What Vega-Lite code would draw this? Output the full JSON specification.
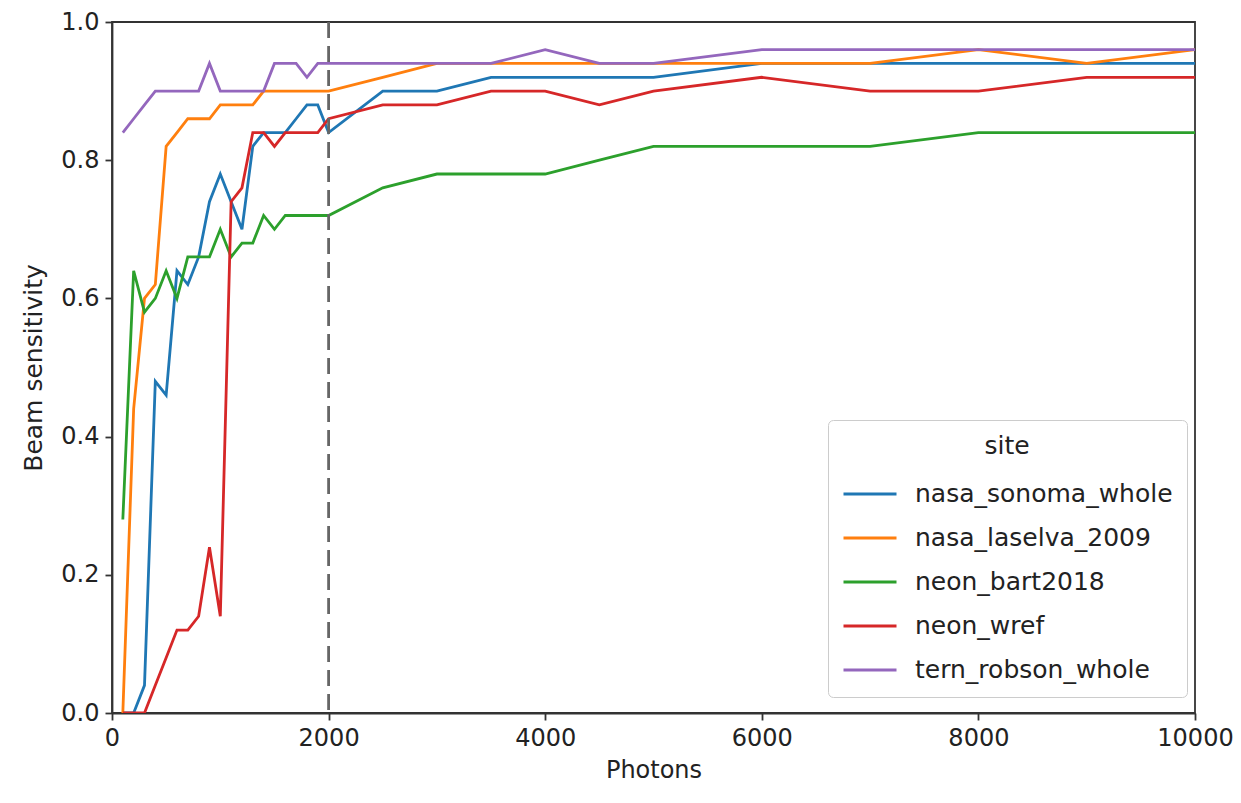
{
  "$schema": "https://vega.github.io/schema/vega-lite/v6.json",
  "width": 1083,
  "height": 691,
  "autosize": {"type": "none"},
  "padding": {"left": 112, "top": 22, "right": 46, "bottom": 90},
  "background": "white",
  "config": {
    "font": "DejaVu Sans",
    "view": {"stroke": "#333333", "strokeWidth": 1.8},
    "axis": {
      "labelFont": "DejaVu Sans",
      "titleFont": "DejaVu Sans",
      "labelFontSize": 24,
      "titleFontSize": 24,
      "titleFontWeight": "normal",
      "labelColor": "#222222",
      "titleColor": "#222222",
      "domainColor": "#333333",
      "domainWidth": 1.8,
      "tickColor": "#333333",
      "tickWidth": 1.8,
      "tickSize": 7,
      "grid": false
    },
    "legend": {
      "labelFont": "DejaVu Sans",
      "titleFont": "DejaVu Sans"
    }
  },
  "datasets": {
    "curves": [
      {"site": "nasa_sonoma_whole", "photons": 100, "sensitivity": 0.0},
      {"site": "nasa_sonoma_whole", "photons": 200, "sensitivity": 0.0},
      {"site": "nasa_sonoma_whole", "photons": 300, "sensitivity": 0.04},
      {"site": "nasa_sonoma_whole", "photons": 400, "sensitivity": 0.48},
      {"site": "nasa_sonoma_whole", "photons": 500, "sensitivity": 0.46},
      {"site": "nasa_sonoma_whole", "photons": 600, "sensitivity": 0.64},
      {"site": "nasa_sonoma_whole", "photons": 700, "sensitivity": 0.62},
      {"site": "nasa_sonoma_whole", "photons": 800, "sensitivity": 0.66},
      {"site": "nasa_sonoma_whole", "photons": 900, "sensitivity": 0.74},
      {"site": "nasa_sonoma_whole", "photons": 1000, "sensitivity": 0.78},
      {"site": "nasa_sonoma_whole", "photons": 1100, "sensitivity": 0.74},
      {"site": "nasa_sonoma_whole", "photons": 1200, "sensitivity": 0.70},
      {"site": "nasa_sonoma_whole", "photons": 1300, "sensitivity": 0.82},
      {"site": "nasa_sonoma_whole", "photons": 1400, "sensitivity": 0.84},
      {"site": "nasa_sonoma_whole", "photons": 1500, "sensitivity": 0.84},
      {"site": "nasa_sonoma_whole", "photons": 1600, "sensitivity": 0.84},
      {"site": "nasa_sonoma_whole", "photons": 1700, "sensitivity": 0.86},
      {"site": "nasa_sonoma_whole", "photons": 1800, "sensitivity": 0.88},
      {"site": "nasa_sonoma_whole", "photons": 1900, "sensitivity": 0.88},
      {"site": "nasa_sonoma_whole", "photons": 2000, "sensitivity": 0.84},
      {"site": "nasa_sonoma_whole", "photons": 2500, "sensitivity": 0.90},
      {"site": "nasa_sonoma_whole", "photons": 3000, "sensitivity": 0.90},
      {"site": "nasa_sonoma_whole", "photons": 3500, "sensitivity": 0.92},
      {"site": "nasa_sonoma_whole", "photons": 4000, "sensitivity": 0.92},
      {"site": "nasa_sonoma_whole", "photons": 4500, "sensitivity": 0.92},
      {"site": "nasa_sonoma_whole", "photons": 5000, "sensitivity": 0.92},
      {"site": "nasa_sonoma_whole", "photons": 6000, "sensitivity": 0.94},
      {"site": "nasa_sonoma_whole", "photons": 7000, "sensitivity": 0.94},
      {"site": "nasa_sonoma_whole", "photons": 8000, "sensitivity": 0.94},
      {"site": "nasa_sonoma_whole", "photons": 9000, "sensitivity": 0.94},
      {"site": "nasa_sonoma_whole", "photons": 10000, "sensitivity": 0.94},

      {"site": "nasa_laselva_2009", "photons": 100, "sensitivity": 0.0},
      {"site": "nasa_laselva_2009", "photons": 200, "sensitivity": 0.44},
      {"site": "nasa_laselva_2009", "photons": 300, "sensitivity": 0.60},
      {"site": "nasa_laselva_2009", "photons": 400, "sensitivity": 0.62},
      {"site": "nasa_laselva_2009", "photons": 500, "sensitivity": 0.82},
      {"site": "nasa_laselva_2009", "photons": 600, "sensitivity": 0.84},
      {"site": "nasa_laselva_2009", "photons": 700, "sensitivity": 0.86},
      {"site": "nasa_laselva_2009", "photons": 800, "sensitivity": 0.86},
      {"site": "nasa_laselva_2009", "photons": 900, "sensitivity": 0.86},
      {"site": "nasa_laselva_2009", "photons": 1000, "sensitivity": 0.88},
      {"site": "nasa_laselva_2009", "photons": 1100, "sensitivity": 0.88},
      {"site": "nasa_laselva_2009", "photons": 1200, "sensitivity": 0.88},
      {"site": "nasa_laselva_2009", "photons": 1300, "sensitivity": 0.88},
      {"site": "nasa_laselva_2009", "photons": 1400, "sensitivity": 0.90},
      {"site": "nasa_laselva_2009", "photons": 1500, "sensitivity": 0.90},
      {"site": "nasa_laselva_2009", "photons": 1600, "sensitivity": 0.90},
      {"site": "nasa_laselva_2009", "photons": 1700, "sensitivity": 0.90},
      {"site": "nasa_laselva_2009", "photons": 1800, "sensitivity": 0.90},
      {"site": "nasa_laselva_2009", "photons": 1900, "sensitivity": 0.90},
      {"site": "nasa_laselva_2009", "photons": 2000, "sensitivity": 0.90},
      {"site": "nasa_laselva_2009", "photons": 2500, "sensitivity": 0.92},
      {"site": "nasa_laselva_2009", "photons": 3000, "sensitivity": 0.94},
      {"site": "nasa_laselva_2009", "photons": 3500, "sensitivity": 0.94},
      {"site": "nasa_laselva_2009", "photons": 4000, "sensitivity": 0.94},
      {"site": "nasa_laselva_2009", "photons": 4500, "sensitivity": 0.94},
      {"site": "nasa_laselva_2009", "photons": 5000, "sensitivity": 0.94},
      {"site": "nasa_laselva_2009", "photons": 6000, "sensitivity": 0.94},
      {"site": "nasa_laselva_2009", "photons": 7000, "sensitivity": 0.94},
      {"site": "nasa_laselva_2009", "photons": 8000, "sensitivity": 0.96},
      {"site": "nasa_laselva_2009", "photons": 9000, "sensitivity": 0.94},
      {"site": "nasa_laselva_2009", "photons": 10000, "sensitivity": 0.96},

      {"site": "neon_bart2018", "photons": 100, "sensitivity": 0.28},
      {"site": "neon_bart2018", "photons": 200, "sensitivity": 0.64},
      {"site": "neon_bart2018", "photons": 300, "sensitivity": 0.58},
      {"site": "neon_bart2018", "photons": 400, "sensitivity": 0.60},
      {"site": "neon_bart2018", "photons": 500, "sensitivity": 0.64},
      {"site": "neon_bart2018", "photons": 600, "sensitivity": 0.60},
      {"site": "neon_bart2018", "photons": 700, "sensitivity": 0.66},
      {"site": "neon_bart2018", "photons": 800, "sensitivity": 0.66},
      {"site": "neon_bart2018", "photons": 900, "sensitivity": 0.66},
      {"site": "neon_bart2018", "photons": 1000, "sensitivity": 0.70},
      {"site": "neon_bart2018", "photons": 1100, "sensitivity": 0.66},
      {"site": "neon_bart2018", "photons": 1200, "sensitivity": 0.68},
      {"site": "neon_bart2018", "photons": 1300, "sensitivity": 0.68},
      {"site": "neon_bart2018", "photons": 1400, "sensitivity": 0.72},
      {"site": "neon_bart2018", "photons": 1500, "sensitivity": 0.70},
      {"site": "neon_bart2018", "photons": 1600, "sensitivity": 0.72},
      {"site": "neon_bart2018", "photons": 1700, "sensitivity": 0.72},
      {"site": "neon_bart2018", "photons": 1800, "sensitivity": 0.72},
      {"site": "neon_bart2018", "photons": 1900, "sensitivity": 0.72},
      {"site": "neon_bart2018", "photons": 2000, "sensitivity": 0.72},
      {"site": "neon_bart2018", "photons": 2500, "sensitivity": 0.76},
      {"site": "neon_bart2018", "photons": 3000, "sensitivity": 0.78},
      {"site": "neon_bart2018", "photons": 3500, "sensitivity": 0.78},
      {"site": "neon_bart2018", "photons": 4000, "sensitivity": 0.78},
      {"site": "neon_bart2018", "photons": 4500, "sensitivity": 0.80},
      {"site": "neon_bart2018", "photons": 5000, "sensitivity": 0.82},
      {"site": "neon_bart2018", "photons": 6000, "sensitivity": 0.82},
      {"site": "neon_bart2018", "photons": 7000, "sensitivity": 0.82},
      {"site": "neon_bart2018", "photons": 8000, "sensitivity": 0.84},
      {"site": "neon_bart2018", "photons": 9000, "sensitivity": 0.84},
      {"site": "neon_bart2018", "photons": 10000, "sensitivity": 0.84},

      {"site": "neon_wref", "photons": 100, "sensitivity": 0.0},
      {"site": "neon_wref", "photons": 200, "sensitivity": 0.0},
      {"site": "neon_wref", "photons": 300, "sensitivity": 0.0},
      {"site": "neon_wref", "photons": 400, "sensitivity": 0.04},
      {"site": "neon_wref", "photons": 500, "sensitivity": 0.08},
      {"site": "neon_wref", "photons": 600, "sensitivity": 0.12},
      {"site": "neon_wref", "photons": 700, "sensitivity": 0.12},
      {"site": "neon_wref", "photons": 800, "sensitivity": 0.14},
      {"site": "neon_wref", "photons": 900, "sensitivity": 0.24},
      {"site": "neon_wref", "photons": 1000, "sensitivity": 0.14},
      {"site": "neon_wref", "photons": 1100, "sensitivity": 0.74},
      {"site": "neon_wref", "photons": 1200, "sensitivity": 0.76},
      {"site": "neon_wref", "photons": 1300, "sensitivity": 0.84},
      {"site": "neon_wref", "photons": 1400, "sensitivity": 0.84},
      {"site": "neon_wref", "photons": 1500, "sensitivity": 0.82},
      {"site": "neon_wref", "photons": 1600, "sensitivity": 0.84},
      {"site": "neon_wref", "photons": 1700, "sensitivity": 0.84},
      {"site": "neon_wref", "photons": 1800, "sensitivity": 0.84},
      {"site": "neon_wref", "photons": 1900, "sensitivity": 0.84},
      {"site": "neon_wref", "photons": 2000, "sensitivity": 0.86},
      {"site": "neon_wref", "photons": 2500, "sensitivity": 0.88},
      {"site": "neon_wref", "photons": 3000, "sensitivity": 0.88},
      {"site": "neon_wref", "photons": 3500, "sensitivity": 0.90},
      {"site": "neon_wref", "photons": 4000, "sensitivity": 0.90},
      {"site": "neon_wref", "photons": 4500, "sensitivity": 0.88},
      {"site": "neon_wref", "photons": 5000, "sensitivity": 0.90},
      {"site": "neon_wref", "photons": 6000, "sensitivity": 0.92},
      {"site": "neon_wref", "photons": 7000, "sensitivity": 0.90},
      {"site": "neon_wref", "photons": 8000, "sensitivity": 0.90},
      {"site": "neon_wref", "photons": 9000, "sensitivity": 0.92},
      {"site": "neon_wref", "photons": 10000, "sensitivity": 0.92},

      {"site": "tern_robson_whole", "photons": 100, "sensitivity": 0.84},
      {"site": "tern_robson_whole", "photons": 200, "sensitivity": 0.86},
      {"site": "tern_robson_whole", "photons": 300, "sensitivity": 0.88},
      {"site": "tern_robson_whole", "photons": 400, "sensitivity": 0.90},
      {"site": "tern_robson_whole", "photons": 500, "sensitivity": 0.90},
      {"site": "tern_robson_whole", "photons": 600, "sensitivity": 0.90},
      {"site": "tern_robson_whole", "photons": 700, "sensitivity": 0.90},
      {"site": "tern_robson_whole", "photons": 800, "sensitivity": 0.90},
      {"site": "tern_robson_whole", "photons": 900, "sensitivity": 0.94},
      {"site": "tern_robson_whole", "photons": 1000, "sensitivity": 0.90},
      {"site": "tern_robson_whole", "photons": 1100, "sensitivity": 0.90},
      {"site": "tern_robson_whole", "photons": 1200, "sensitivity": 0.90},
      {"site": "tern_robson_whole", "photons": 1300, "sensitivity": 0.90},
      {"site": "tern_robson_whole", "photons": 1400, "sensitivity": 0.90},
      {"site": "tern_robson_whole", "photons": 1500, "sensitivity": 0.94},
      {"site": "tern_robson_whole", "photons": 1600, "sensitivity": 0.94},
      {"site": "tern_robson_whole", "photons": 1700, "sensitivity": 0.94},
      {"site": "tern_robson_whole", "photons": 1800, "sensitivity": 0.92},
      {"site": "tern_robson_whole", "photons": 1900, "sensitivity": 0.94},
      {"site": "tern_robson_whole", "photons": 2000, "sensitivity": 0.94},
      {"site": "tern_robson_whole", "photons": 2500, "sensitivity": 0.94},
      {"site": "tern_robson_whole", "photons": 3000, "sensitivity": 0.94},
      {"site": "tern_robson_whole", "photons": 3500, "sensitivity": 0.94},
      {"site": "tern_robson_whole", "photons": 4000, "sensitivity": 0.96},
      {"site": "tern_robson_whole", "photons": 4500, "sensitivity": 0.94},
      {"site": "tern_robson_whole", "photons": 5000, "sensitivity": 0.94},
      {"site": "tern_robson_whole", "photons": 6000, "sensitivity": 0.96},
      {"site": "tern_robson_whole", "photons": 7000, "sensitivity": 0.96},
      {"site": "tern_robson_whole", "photons": 8000, "sensitivity": 0.96},
      {"site": "tern_robson_whole", "photons": 9000, "sensitivity": 0.96},
      {"site": "tern_robson_whole", "photons": 10000, "sensitivity": 0.96}
    ],
    "threshold": [{"photons": 2000}]
  },
  "layer": [
    {
      "data": {"name": "curves"},
      "mark": {"type": "line", "strokeWidth": 2.8, "clip": true},
      "encoding": {
        "x": {
          "field": "photons",
          "type": "quantitative",
          "scale": {"domain": [0, 10000], "nice": false, "zero": true},
          "axis": {
            "title": "Photons",
            "values": [0, 2000, 4000, 6000, 8000, 10000],
            "format": "d",
            "labelPadding": 6,
            "titlePadding": 8,
            "labelFlush": false
          }
        },
        "y": {
          "field": "sensitivity",
          "type": "quantitative",
          "scale": {"domain": [0, 1], "nice": false},
          "axis": {
            "title": "Beam sensitivity",
            "values": [0, 0.2, 0.4, 0.6, 0.8, 1.0],
            "format": ".1f",
            "labelPadding": 6,
            "titlePadding": 14,
            "titleFontSize": 25,
            "labelFlush": false
          }
        },
        "color": {
          "field": "site",
          "type": "nominal",
          "sort": ["nasa_sonoma_whole", "nasa_laselva_2009", "neon_bart2018", "neon_wref", "tern_robson_whole"],
          "scale": {
            "domain": ["nasa_sonoma_whole", "nasa_laselva_2009", "neon_bart2018", "neon_wref", "tern_robson_whole"],
            "range": ["#1f77b4", "#ff7f0e", "#2ca02c", "#d62728", "#9467bd"]
          },
          "legend": {
            "title": "site",
            "orient": "none",
            "legendX": 716,
            "legendY": 398,
            "titleAnchor": "middle",
            "titleFontSize": 25,
            "titleFontWeight": "normal",
            "titleColor": "#222222",
            "titlePadding": 7,
            "labelFontSize": 25,
            "labelColor": "#222222",
            "labelLimit": 400,
            "labelOffset": 17,
            "symbolType": "stroke",
            "symbolSize": 2809,
            "symbolStrokeWidth": 2.8,
            "rowPadding": 3,
            "padding": 14,
            "strokeColor": "#cccccc",
            "fillColor": "white",
            "cornerRadius": 5
          }
        }
      }
    },
    {
      "data": {"name": "threshold"},
      "mark": {"type": "rule", "color": "#666666", "strokeWidth": 2.8, "strokeDash": [16, 8]},
      "encoding": {
        "x": {"field": "photons", "type": "quantitative"}
      }
    }
  ]
}
